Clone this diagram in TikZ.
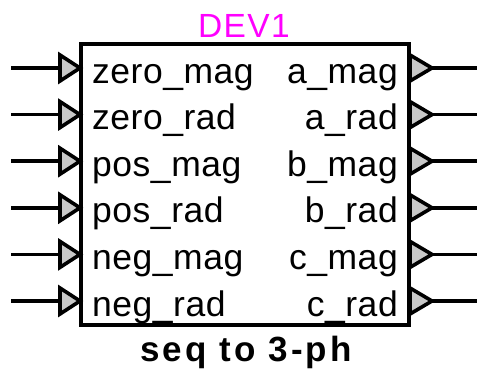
\documentclass[tikz,border=0pt]{standalone}
\usepackage{fontspec}
\setmainfont{Liberation Sans}
\begin{document}
\begin{tikzpicture}[x=1pt,y=-1pt,
  wire/.style={line width=3.6pt},
  pinin/.style={line width=3.6pt, fill=pingray, line join=miter},
  lbl/.style={inner sep=0pt, font=\fontsize{35.5}{40}\selectfont\addfontfeatures{LetterSpace=1.5}},
  title/.style={inner sep=0pt, text=devmag, font=\fontsize{33.5}{38}\selectfont\addfontfeatures{LetterSpace=4}},
  caption/.style={inner sep=0pt, font=\fontsize{35}{40}\selectfont\bfseries\addfontfeatures{LetterSpace=9}}]
\definecolor{pingray}{RGB}{200,200,200}
\definecolor{devmag}{RGB}{255,0,255}
\useasboundingbox (0,0) rectangle (477,368);

% block body
\draw[line width=3.6pt] (81,44) rectangle (409,325);
\node[title, anchor=base] (dev) at (244,37) {DEV1};
\node[caption, anchor=base] (cap) at (246,361) {seq to 3-ph};

% pins: left inputs and right outputs
\foreach \i/\l/\r in {0/zero\_mag/a\_mag, 1/zero\_rad/a\_rad, 2/pos\_mag/b\_mag,
                      3/pos\_rad/b\_rad, 4/neg\_mag/c\_mag, 5/neg\_rad/c\_rad} {
  \pgfmathsetmacro{\yy}{68+46.6*\i}
  \coordinate (in\i)  at (11,\yy);
  \coordinate (inb\i) at (60,\yy);
  \coordinate (out\i) at (432,\yy);
  \coordinate (oute\i) at (477,\yy);
  \draw[wire] (in\i) -- (inb\i);
  \draw[pinin] (60,\yy-13) -- (80,\yy) -- (60,\yy+13) -- cycle;
  \draw[pinin] (410,\yy-13) -- (out\i) -- (410,\yy+13) -- cycle;
  \draw[wire] (out\i) -- (oute\i);
  \node[lbl, anchor=base west] (l\i) at (92,\yy+15) {\l};
  \node[lbl, anchor=base east] (r\i) at (398,\yy+15) {\r};
}
\end{tikzpicture}
\end{document}
